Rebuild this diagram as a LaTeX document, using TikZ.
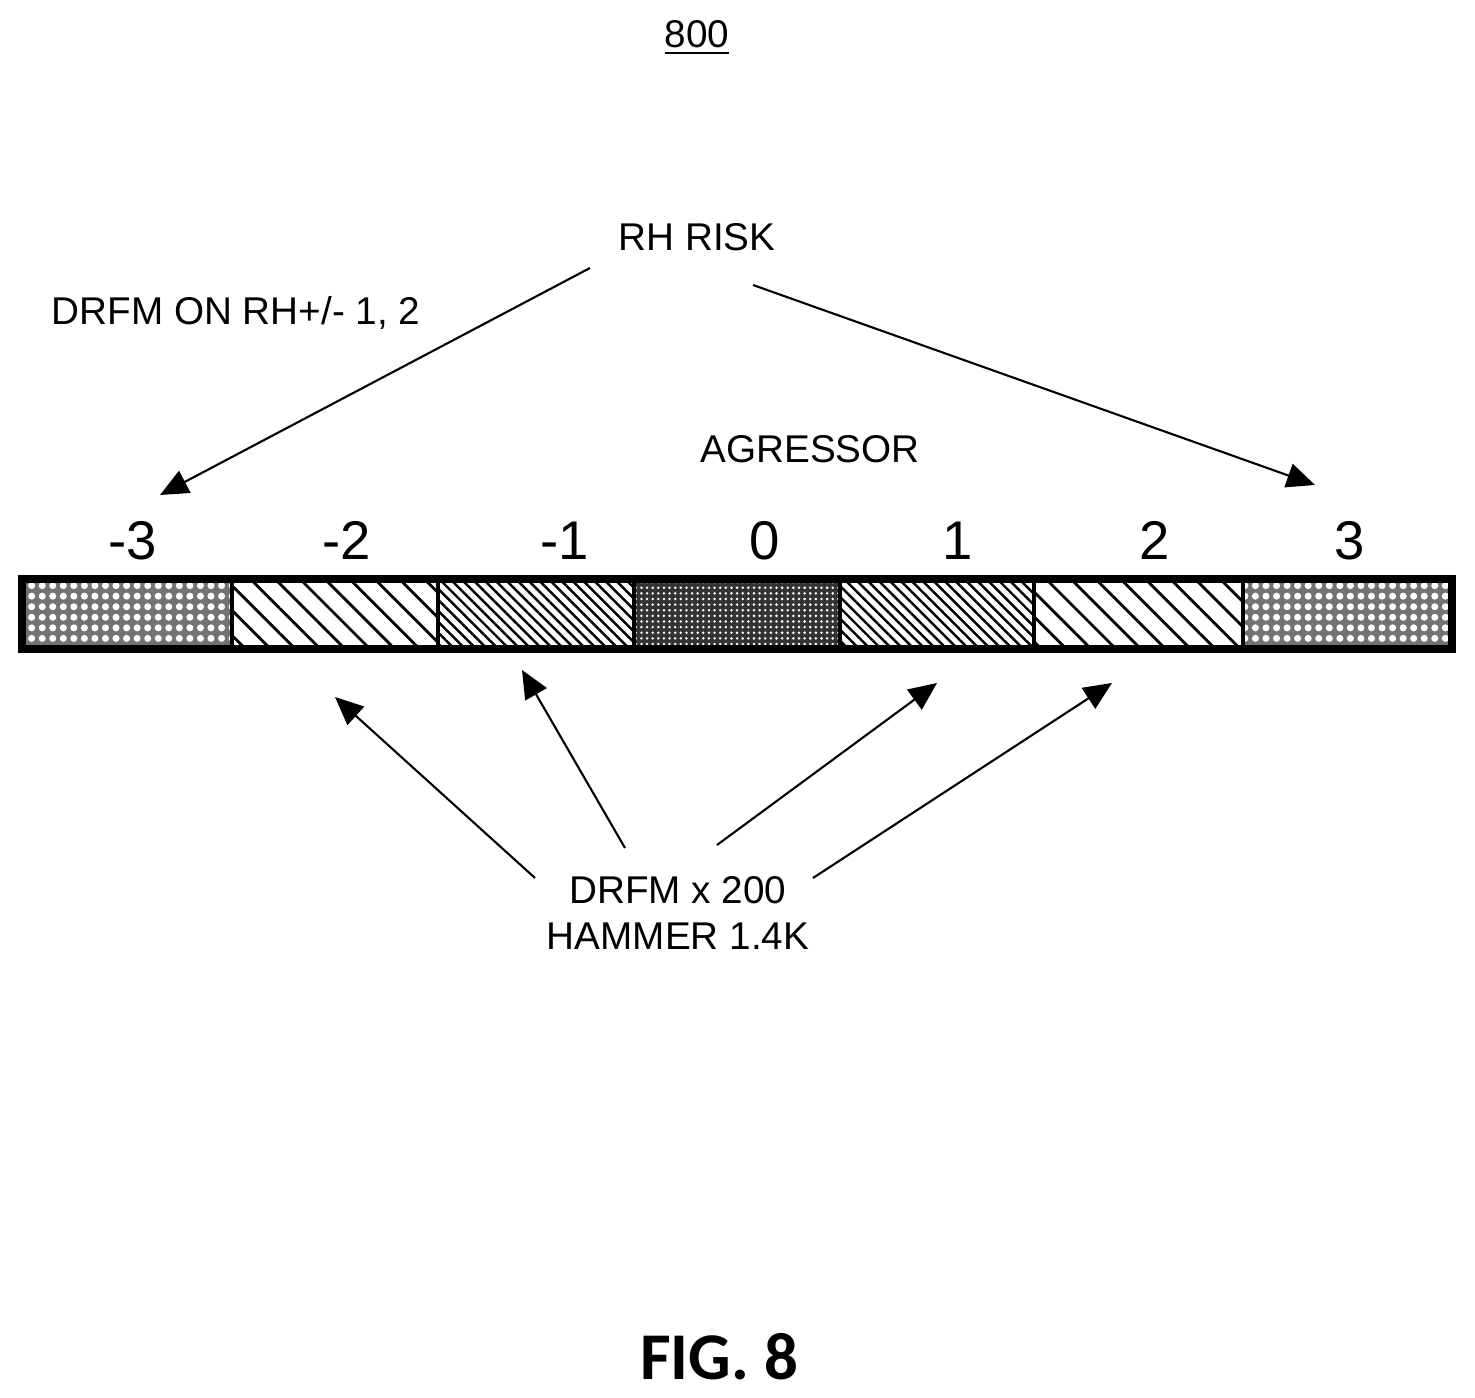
\documentclass[tikz,border=0pt]{standalone}
\usepackage{fontspec}
\setmainfont{Liberation Sans}
\newfontfamily\figfont{Carlito}
\usetikzlibrary{patterns,patterns.meta,arrows.meta}
\tikzset{
  lbl/.style={font=\fontsize{11pt}{13pt}\selectfont},
  num/.style={font=\fontsize{15.5pt}{18pt}\selectfont},
  cell/.style={draw=black,line width=1.2pt},
  arr/.style={-{Triangle[length=8pt,width=7pt]},line width=0.6pt}
}
\begin{document}
\begin{tikzpicture}[x=0.01cm,y=-0.01cm]
\useasboundingbox(0,0)rectangle(1475,1398);
%title
\node[lbl](title)at(697,38){\underline{800}};
\node[lbl](risk)at(697,237){RH RISK};
\node[lbl](drfmon)at(236,313){DRFM ON RH+/- 1, 2};
\node[lbl](agr)at(810,449){AGRESSOR};
%row bar
\foreach \a/\b in {22/232,1243/1452}{
  \fill[black!55](\a,579)rectangle(\b,649);
  \fill[pattern={Dots[distance=3pt,radius=1pt]},pattern color=white](\a,579)rectangle(\b,649);
  \draw[cell](\a,579)rectangle(\b,649);
}
\foreach \a/\b in {232/438,1034/1243}{
  \draw[cell,pattern={Lines[angle=-45,distance=5pt,line width=0.8pt]}](\a,579)rectangle(\b,649);
}
\foreach \a/\b in {438/634,840/1034}{
  \draw[cell,pattern={Lines[angle=-45,distance=2.2pt,line width=0.7pt]}](\a,579)rectangle(\b,649);
}
\fill[black!80](634,579)rectangle(840,649);
\fill[pattern={Dots[distance=1.6pt,radius=0.4pt]},pattern color=white](634,579)rectangle(840,649);
\draw[cell](634,579)rectangle(840,649);
\draw[line width=2pt](22,579)rectangle(1452,649);
%row numbers
\foreach \x/\n/\t in {133/m3/-3,347/m2/-2,565/m1/-1,765/z/0,958/p1/1,1155/p2/2,1350/p3/3}{
  \node[num,anchor=base](\n)at(\x,560){\t};
}
%hammer text
\node[lbl,align=center](ham)at(678,913){DRFM x 200\\HAMMER 1.4K};
%arrows
\coordinate(r1)at(590,268);\coordinate(r2)at(753,285);
\coordinate(e1)at(160,495);\coordinate(e2)at(1315,485);
\draw[arr](r1)--(e1);
\draw[arr](r2)--(e2);
\coordinate(h1)at(535,878);\coordinate(h2)at(625,848);
\coordinate(h3)at(717,845);\coordinate(h4)at(813,878);
\coordinate(t1)at(335,697);\coordinate(t2)at(522,670);
\coordinate(t3)at(937,683);\coordinate(t4)at(1112,683);
\draw[arr](h1)--(t1);
\draw[arr](h2)--(t2);
\draw[arr](h3)--(t3);
\draw[arr](h4)--(t4);
%caption
\node[font=\figfont\bfseries\fontsize{19pt}{22pt}\selectfont](fig)at(719,1357){FIG. 8};
\end{tikzpicture}
\end{document}
